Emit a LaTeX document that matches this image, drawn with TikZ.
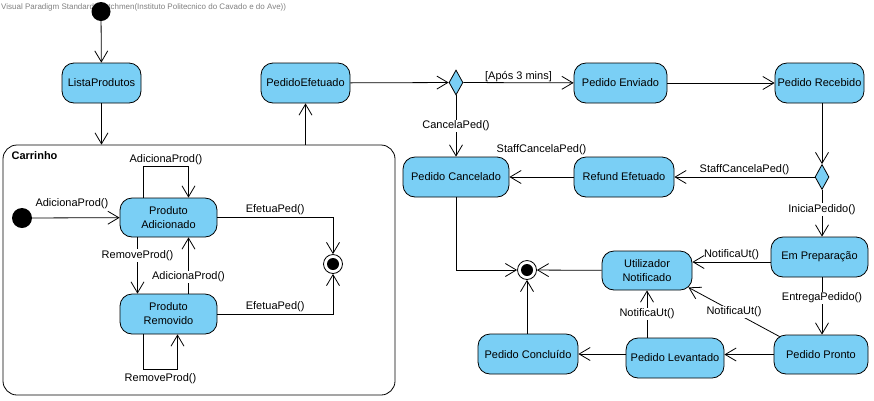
\documentclass[tikz,border=0pt]{standalone}
\usepackage{fontspec}
\setmainfont{Liberation Sans}
\usetikzlibrary{shapes.geometric,arrows.meta}
\definecolor{stblue}{RGB}{122,207,245}

\begin{document}
\begin{tikzpicture}[x=1pt,y=-1pt,
    every node/.style={font=\fontsize{11}{14}\selectfont},
    state/.style={draw,fill=stblue,rounded corners=12pt,minimum height=40pt,inner sep=2pt,align=center,line width=0.8pt},
    choice/.style={draw,fill=stblue,diamond,minimum width=14pt,minimum height=25pt,inner sep=0pt,line width=0.8pt},
    start/.style={circle,fill=black,minimum size=19pt,inner sep=0pt},
    finish/.style={circle,draw,fill=white,minimum size=19pt,inner sep=0pt,line width=0.8pt},
    lbl/.style={fill=white,inner sep=1pt},
    tr/.style={-{Straight Barb[length=11pt,width=13pt]},line width=0.8pt}
]
    \useasboundingbox (0,0) rectangle (874,400);

    \node (hdr) at (1,7) [anchor=west,inner sep=0pt,text=gray,font=\fontsize{8}{9}\selectfont] {Visual Paradigm Standard(Watchmen(Instituto Politecnico do Cavado e do Ave))};

    % left column
    \node (i1) at (101,11.5) [start] {};
    \node (s1) at (101.5,83) [state,minimum width=79pt] {ListaProdutos};
    \node (s2) at (305.5,83) [state,minimum width=89pt] {PedidoEfetuado};

    % Carrinho
    \node (carr) at (199,270) [draw,rounded corners=14pt,minimum width=392pt,minimum height=250pt,line width=0.8pt] {};
    \node (ct) at ([xshift=5.5pt,yshift=-3pt]carr.north west) [anchor=north west,font=\bfseries\fontsize{11}{14}\selectfont] {Carrinho};
    \node (i2) at (22,218) [start,minimum size=20pt] {};
    \node (s3) at (168.5,217.5) [state,minimum width=97pt,minimum height=39pt] {Produto\\Adicionado};
    \node (s4) at (168.5,314) [state,minimum width=97pt] {Produto\\Removido};
    \node (f1) at (333,264) [finish] {};
    \fill (f1.center) circle (6pt);

    % right side
    \node (d1) at (456,82.5) [choice] {};
    \node (s5) at (620.5,83) [state,minimum width=93pt] {Pedido Enviado};
    \node (s6) at (819.5,83) [state,minimum width=89pt] {Pedido Recebido};
    \node (d2) at (822,177) [choice] {};
    \node (s7) at (624,177) [state,minimum width=100pt] {Refund Efetuado};
    \node (s8) at (456,177) [state,minimum width=106pt] {Pedido Cancelado};
    \node (s9) at (819.5,257) [state,minimum width=97pt] {Em Preparação};
    \node (s10) at (647,270.5) [state,minimum width=90pt,minimum height=39pt] {Utilizador\\Notificado};
    \node (f2) at (527,270) [finish] {};
    \fill (f2.center) circle (6pt);
    \node (s11) at (821,354.5) [state,minimum width=94pt,minimum height=39pt] {Pedido Pronto};
    \node (s12) at (675,358) [state,minimum width=98pt] {Pedido Levantado};
    \node (s13) at (528,354) [state,minimum width=100pt] {Pedido Concluído};

    \draw[tr] (i1) -- (s1);
    \draw[tr] (s1) -- (s1 |- carr.north);
    \draw[tr] (carr.north -| s2) -- (s2);

    \draw[tr] (i2) -- (s3) node[midway,above=5pt,xshift=-4pt] {AdicionaProd()};
    \draw[tr] ([xshift=-25pt]s3.north) -- ++(0,-31) -| ([xshift=20pt]s3.north) node[pos=0.25,above,inner sep=1pt] {AdicionaProd()};
    \draw[tr] ([xshift=-31pt]s3.south) -- ([xshift=-31pt]s4.north) node[pos=0.32,lbl] {RemoveProd()};
    \draw[tr] ([xshift=20pt]s4.north) -- ([xshift=20pt]s3.south) node[pos=0.3,lbl] {AdicionaProd()};
    \draw[tr] ([xshift=-25pt]s4.south) -- ++(0,35) -| ([xshift=9pt]s4.south) node[pos=0.25,below] {RemoveProd()};
    \draw[tr] (s3.east) -| (f1) node[pos=0.25,above,inner sep=2pt] {EfetuaPed()};
    \draw[tr] (s4.east) -| (f1) node[pos=0.25,above,inner sep=2pt] {EfetuaPed()};

    \draw[tr] (s2) -- (d1);
    \draw[tr] (d1) -- (s5) node[midway,above,inner sep=1pt] {[Após 3 mins]};
    \draw[tr] (s5) -- (s6);
    \draw[tr] (s6.south -| d2) -- (d2);
    \draw[tr] (d2) -- (s7) node[midway,above,inner sep=2pt] {StaffCancelaPed()};
    \draw[tr] (s7) -- (s8) node[midway,above,yshift=18pt] {StaffCancelaPed()};
    \draw[tr] (d1) -- (s8) node[midway,lbl] {CancelaPed()};
    \draw[tr] (d2) -- (s9.north -| d2) node[pos=0.42,lbl] {IniciaPedido()};
    \draw[tr] ([yshift=-5pt]s9.west) -- ([yshift=-5pt]s9.west -| s10.east) node[midway,above,inner sep=2pt] {NotificaUt()};
    \draw[tr] (s9.south -| d2) -- (s11.north -| d2) node[pos=0.36,lbl] {EntregaPedido()};
    \draw[tr] ([xshift=6pt,yshift=-2pt]s11.north west) -- ([xshift=-4pt,yshift=3pt]s10.south east) node[pos=0.5,lbl] {NotificaUt()};
    \draw[tr] (s11.west) -- (s11.west -| s12.east);
    \draw[tr] (s12.north -| s10.south) -- (s10.south) node[midway,lbl] {NotificaUt()};
    \draw[tr] (s13.east -| s12.west) -- (s13.east);
    \draw[tr] (s13.north -| f2) -- (f2);
    \draw[tr] (s10) -- (f2);
    \draw[tr] (s8) |- (f2);
\end{tikzpicture}
\end{document}
